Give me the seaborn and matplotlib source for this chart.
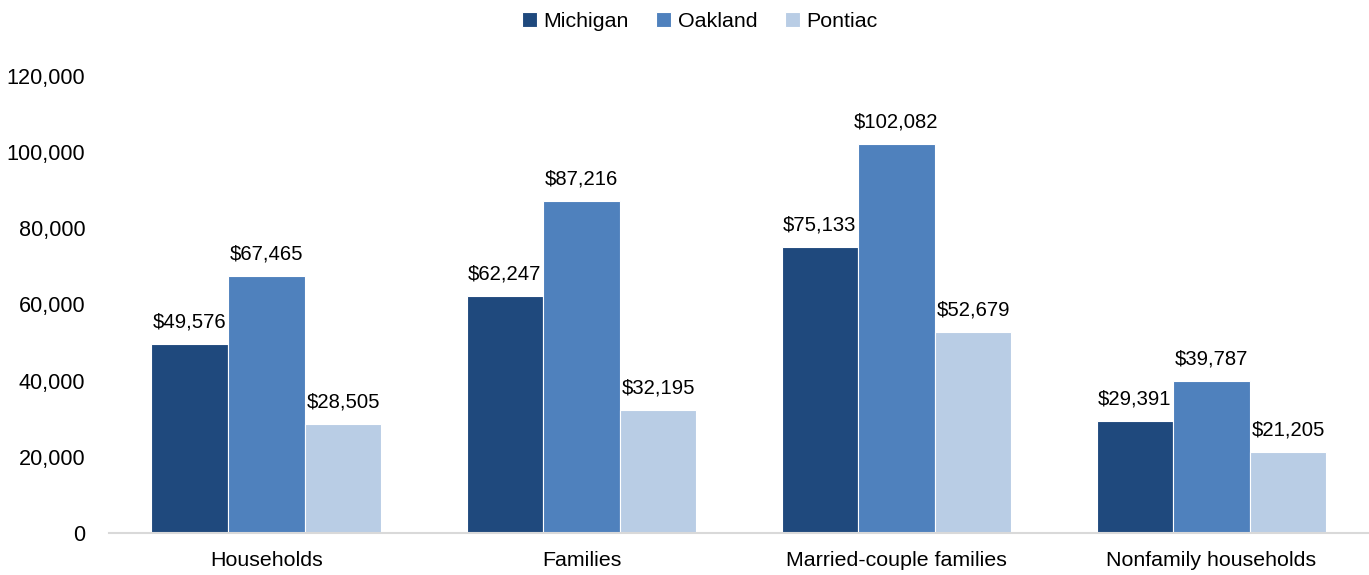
import matplotlib
matplotlib.use("Agg")
import matplotlib.pyplot as plt
import seaborn as sns
import pandas as pd

categories = ["Households", "Families", "Married-couple families", "Nonfamily households"]
michigan = [49576, 62247, 75133, 29391]
oakland = [67465, 87216, 102082, 39787]
pontiac = [28505, 32195, 52679, 21205]
series_names = ["Michigan", "Oakland", "Pontiac"]
colors = ["#1F497D", "#4F81BD", "#B9CDE5"]
yticks = [0, 20000, 40000, 60000, 80000, 100000, 120000]

rows = []
for name, vals in zip(series_names, [michigan, oakland, pontiac]):
    for c, v in zip(categories, vals):
        rows.append({"category": c, "series": name, "value": v})
df = pd.DataFrame(rows)

sns.set_theme(style="white")
plt.rcParams["font.family"] = ["Liberation Sans", "DejaVu Sans"]

fig = plt.figure(figsize=(13.69, 5.75), dpi=100)
ax = fig.add_axes([0.0796, 0.073, 0.9204, 0.795])

sns.barplot(data=df, x="category", y="value", hue="series", order=categories,
            hue_order=series_names, palette=colors, width=0.73, ax=ax,
            edgecolor="white", linewidth=0.8, saturation=1, legend=True)

for cont in ax.containers:
    ax.bar_label(cont, labels=[f"${v:,.0f}" for v in cont.datavalues],
                 padding=9, fontsize=14.6, color="#000000")

ax.set_xlim(-0.5, 3.5)
ax.set_ylim(0, 120000)
ax.set_yticks(yticks)
ax.set_yticklabels([f"{t:,}" for t in yticks], fontsize=15.6, color="#000000")
ax.tick_params(axis="x", labelsize=15.4, colors="#000000", pad=13, length=0)
ax.tick_params(axis="y", length=0, pad=17)
ax.set_xlabel("")
ax.set_ylabel("")
for s in ["top", "right", "left"]:
    ax.spines[s].set_visible(False)
ax.spines["bottom"].set_color("#D9D9D9")
ax.spines["bottom"].set_linewidth(1.5)
ax.grid(False)

handles, labels = ax.get_legend_handles_labels()
ax.get_legend().remove()
fig.legend(handles, labels, loc="center", bbox_to_anchor=(0.511, 0.962), ncol=3,
           frameon=False, fontsize=15.4, handlelength=0.7, handleheight=0.7,
           handletextpad=0.3, columnspacing=1.3, labelcolor="#000000")

fig.savefig("out.png", dpi=100)
